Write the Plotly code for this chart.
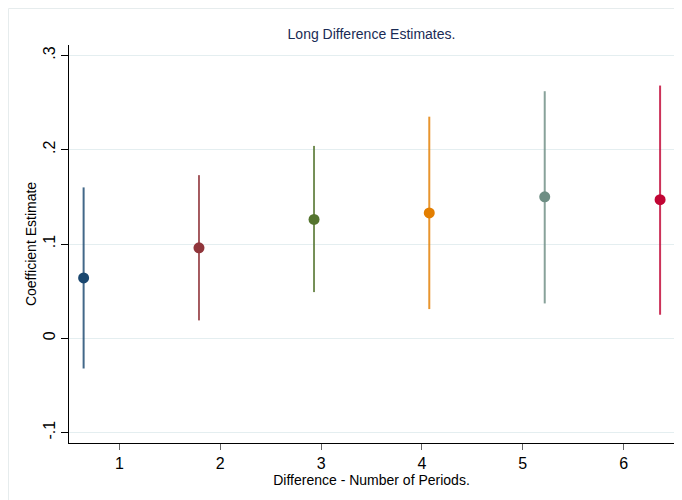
import plotly.graph_objects as go

# Data
periods = [1, 2, 3, 4, 5, 6]
x_pos = [0.645, 1.789, 2.930, 4.073, 5.218, 6.362]
estimates = [0.064, 0.096, 0.126, 0.133, 0.150, 0.147]
ci_low = [-0.032, 0.019, 0.049, 0.031, 0.037, 0.025]
ci_high = [0.160, 0.173, 0.204, 0.235, 0.262, 0.268]
colors = ["#1a476f", "#90353b", "#55752f", "#e37e00", "#6e8e84", "#c10534"]
y_tickvals = [-0.1, 0, 0.1, 0.2, 0.3]
y_ticktext = ["-.1", "0", ".1", ".2", ".3"]


def faded(hex_color, alpha=0.82):
    h = hex_color.lstrip("#")
    r, g, b = int(h[0:2], 16), int(h[2:4], 16), int(h[4:6], 16)
    return f"rgba({r},{g},{b},{alpha})"


fig = go.Figure()
for i in range(len(estimates)):
    fig.add_trace(go.Scatter(
        x=[x_pos[i]], y=[estimates[i]],
        mode="markers",
        marker=dict(color=colors[i], size=11, line=dict(width=0)),
        error_y=dict(type="data", symmetric=False,
                     array=[ci_high[i] - estimates[i]],
                     arrayminus=[estimates[i] - ci_low[i]],
                     color=faded(colors[i]), thickness=2, width=0),
        showlegend=False,
    ))

fig.update_layout(
    width=682, height=500,
    margin=dict(l=61, r=16, t=37, b=65),
    paper_bgcolor="white", plot_bgcolor="white",
    font=dict(family="Liberation Sans, Arial, sans-serif", color="black"),
    title=dict(text="Long Difference Estimates.", x=0.5, xref="paper",
               y=0.948, yref="container", yanchor="middle",
               font=dict(size=14, color="#1a2b55")),
    xaxis=dict(range=[0.5, 6.5], tickvals=periods, ticktext=[str(p) for p in periods],
               showgrid=False, zeroline=False, showline=True, linecolor="black", linewidth=1,
               ticks="outside", ticklen=6, tickcolor="#666666", tickfont=dict(size=16),
               automargin=False,
               title=dict(text="Difference - Number of Periods.", font=dict(size=14), standoff=0)),
    yaxis=dict(range=[-0.111, 0.311], tickvals=y_tickvals, ticktext=y_ticktext,
               showgrid=True, gridcolor="#e4eef0", gridwidth=1, zeroline=False,
               showline=True, linecolor="black", linewidth=1,
               ticks="outside", ticklen=7, tickcolor="black", tickangle=-90,
               tickfont=dict(size=16), automargin=False,
               title=dict(text="Coefficient Estimate", font=dict(size=14), standoff=0)),
    shapes=[dict(type="rect", xref="paper", yref="paper",
                 x0=-0.1, x1=1.2, y0=-0.3, y1=1.0917,
                 line=dict(color="#e6eced", width=1), layer="below")],
)

fig.write_html("out.html")
